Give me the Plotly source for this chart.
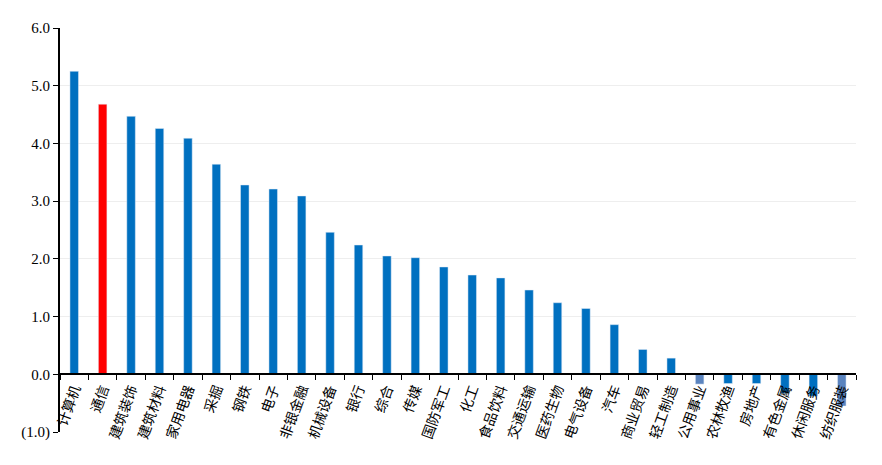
import plotly.graph_objects as go

categories = ["计算机","通信","建筑装饰","建筑材料","家用电器","采掘","钢铁","电子","非银金融","机械设备","银行","综合","传媒","国防军工","化工","食品饮料","交通运输","医药生物","电气设备","汽车","商业贸易","轻工制造","公用事业","农林牧渔","房地产","有色金属","休闲服务","纺织服装"]
values = [5.25,4.68,4.47,4.26,4.09,3.64,3.28,3.21,3.09,2.46,2.24,2.05,2.02,1.86,1.72,1.67,1.46,1.24,1.14,0.86,0.43,0.28,-0.17,-0.16,-0.16,-0.33,-0.38,-0.55]
colors = ["#0070C0"]*len(categories)
colors[1] = "#FF0000"
colors[22] = "#5B84BF"
colors[27] = "#5B84BF"
yticks = [-1,0,1,2,3,4,5,6]
yticklabels = ["(1.0)","0.0","1.0","2.0","3.0","4.0","5.0","6.0"]

fig = go.Figure(go.Bar(x=categories, y=values, marker_color=colors, width=0.3))
fig.update_layout(
    width=882, height=465, plot_bgcolor="white", paper_bgcolor="white",
    margin=dict(l=52, r=34, t=17, b=41), showlegend=False, bargap=0.7,
    font=dict(family="Liberation Serif, Noto Sans CJK SC", size=14, color="black"),
)
fig.update_yaxes(range=[-1,6], tickvals=yticks, ticktext=yticklabels, showgrid=True,
                 gridcolor="#EEEEEE", zeroline=False, showline=True, linecolor="black",
                 linewidth=2, ticks="outside", ticklen=5, tickcolor="black",
                 tickfont=dict(family="Liberation Serif", size=15))
fig.update_xaxes(anchor="free", position=1/7, tickangle=-70, showline=True, linecolor="black",
                 linewidth=2, ticks="outside", tickson="boundaries", ticklen=5, tickcolor="black",
                 tickfont=dict(family="Noto Sans CJK SC", size=14))
fig.write_html("out.html")
